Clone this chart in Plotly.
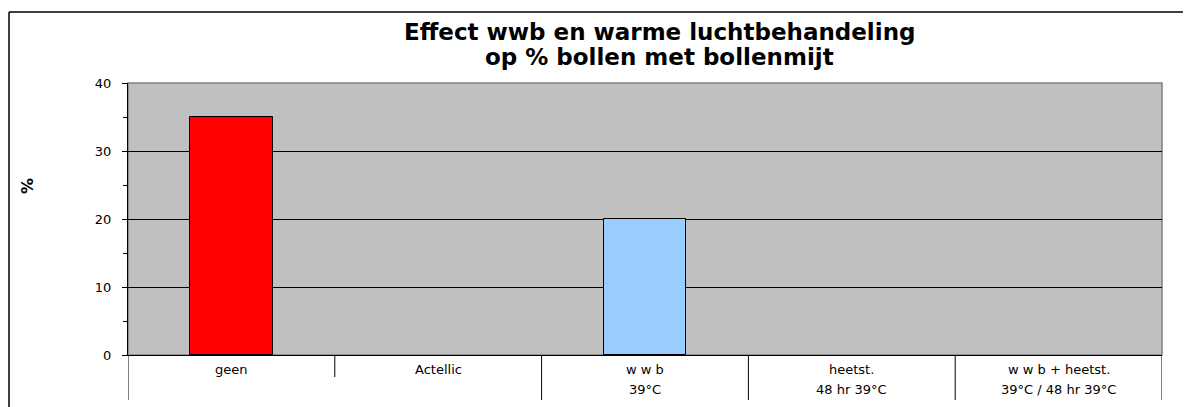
import plotly.graph_objects as go

# ─── Data ──────────────────────────────────────────────────────────────────────
categories = ["geen", "Actellic", "w w b", "heetst.", "w w b + heetst."]
sub_labels = ["", "", "39°C", "48 hr 39°C", "39°C / 48 hr 39°C"]
values     = [35, None, 20, None, None]
bar_colors = ["#ff0000", "#ff0000", "#99ccff", "#99ccff", "#99ccff"]

y_ticks    = [0, 10, 20, 30, 40]

title_lines = ["Effect wwb en warme luchtbehandeling", "op % bollen met bollenmijt"]

FONT = "DejaVu Sans, Arial, sans-serif"

# page body has an 8px margin -> work in figure pixels (page px - 8)
OFF = 8
W, H = 1191 - OFF, 407 - OFF
PL, PR, PT, PB = 128 - OFF, 1162 - OFF, 83 - OFF, 355 - OFF   # plot area in figure px
PW, PH = PR - PL, PB - PT


def px(x):
    return (x - OFF - PL) / PW


def py(y):
    return (PB - (y - OFF)) / PH


# ─── Figure ────────────────────────────────────────────────────────────────────
fig = go.Figure()
fig.add_trace(go.Bar(
    x=list(range(len(categories))), y=values,
    width=0.4,
    marker=dict(color=bar_colors, line=dict(color="#000000", width=1)),
    hoverinfo="skip",
))

fig.update_layout(
    width=W, height=H,
    margin=dict(l=PL, r=W - PR, t=PT, b=H - PB),
    paper_bgcolor="#ffffff",
    plot_bgcolor="#c0c0c0",
    showlegend=False,
    font=dict(family=FONT, color="#000000"),
    bargap=0,
)

fig.update_xaxes(
    range=[-0.5, len(categories) - 0.5],
    showticklabels=False, ticks="",
    showgrid=False, zeroline=False,
    showline=True, linecolor="#000000", linewidth=1,
)
fig.update_yaxes(
    range=[0, 40],
    tickvals=y_ticks,
    ticks="outside", ticklen=5, tickcolor="#000000",
    minor=dict(dtick=5, ticks="outside", ticklen=4, tickcolor="#000000", showgrid=False),
    tickfont=dict(size=13, family=FONT),
    ticklabelstandoff=8,
    showgrid=True, gridcolor="#000000", gridwidth=1,
    zeroline=False,
    showline=True, linecolor="#000000", linewidth=1,
)

# plot-area border (grey, Excel style)
fig.add_shape(type="rect", xref="paper", yref="paper", x0=0, x1=1, y0=0, y1=1,
              line=dict(color="#808080", width=1.5), layer="below")
# outer chart frame: only left and top edges fall inside the picture
fig.add_shape(type="line", xref="paper", yref="paper",
              x0=px(9), x1=px(9), y0=py(412), y1=py(12),
              line=dict(color="#000000", width=1.5))
fig.add_shape(type="line", xref="paper", yref="paper",
              x0=px(9), x1=px(1195), y0=py(12), y1=py(12),
              line=dict(color="#000000", width=1.5))

# category table below the axis
for i in range(len(categories) + 1):
    short = 0 < i < len(categories) and sub_labels[i - 1] == "" and sub_labels[i] == ""
    fig.add_shape(type="line", xref="x", yref="paper",
                  x0=i - 0.5, x1=i - 0.5, y0=0,
                  y1=py(377) if short else py(400),
                  line=dict(color="#000000", width=1))

for i, (cat, sub) in enumerate(zip(categories, sub_labels)):
    fig.add_annotation(x=i, y=py(369), xref="x", yref="paper",
                       xanchor="center", yanchor="middle",
                       text=cat, showarrow=False, font=dict(size=13, family=FONT))
    if sub:
        fig.add_annotation(x=i, y=py(389), xref="x", yref="paper",
                           xanchor="center", yanchor="middle",
                           text=sub, showarrow=False, font=dict(size=13, family=FONT))

# title (two lines placed separately to match the spacing)
for line, ypix in zip(title_lines, [32, 57]):
    fig.add_annotation(x=px(659), y=py(ypix), xref="paper", yref="paper",
                       xanchor="center", yanchor="middle",
                       text=f"<b>{line}</b>", showarrow=False,
                       font=dict(size=23, family=FONT))

# y-axis title
fig.add_annotation(x=px(27), y=py(186), xref="paper", yref="paper",
                   xanchor="center", yanchor="middle",
                   text="<b>%</b>", textangle=-90, showarrow=False,
                   font=dict(size=16, family=FONT))

fig.write_html("out.html")
